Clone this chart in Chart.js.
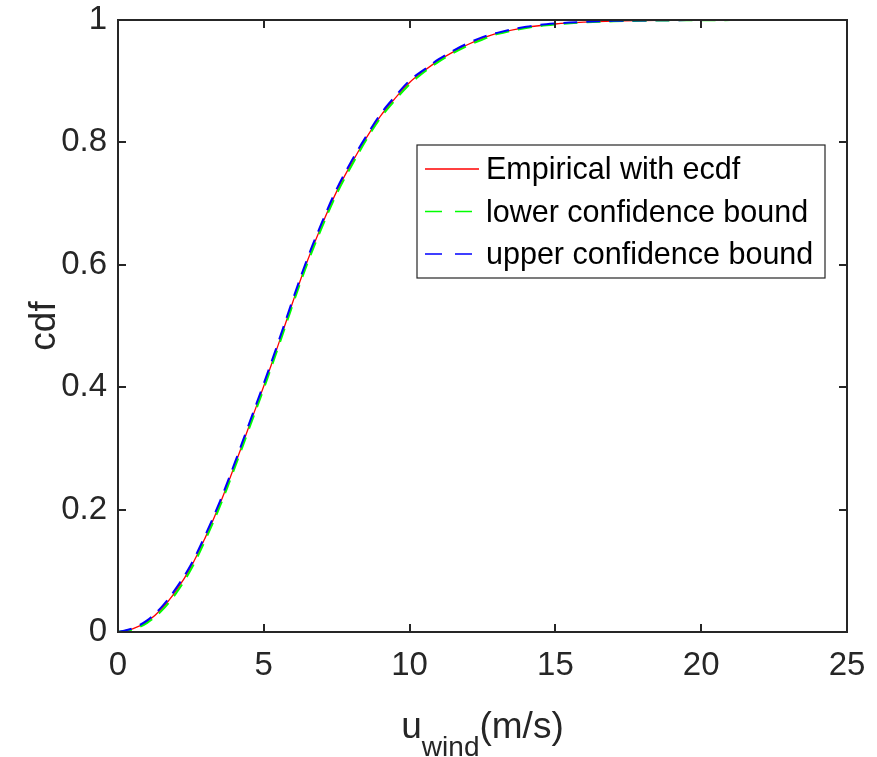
<!DOCTYPE html>
<html>
<head>
<meta charset="utf-8">
<script src="https://cdn.jsdelivr.net/npm/chart.js@4.4.0/dist/chart.umd.min.js"></script>
<style>
  html, body { margin: 0; padding: 0; background: #fff; }
  #box { width: 877px; height: 757px; position: relative; }
</style>
</head>
<body>
<div id="box"><canvas id="myChart"></canvas></div>
<script>
// datos
const xWind = [0, 0.5, 1, 1.5, 2, 2.5, 3, 3.5, 4, 4.5, 5, 5.5, 6, 6.5, 7, 7.5, 8, 8.5, 9, 9.5,
  10, 10.5, 11, 11.5, 12, 12.5, 13, 14, 15, 16, 17, 18, 19, 20, 21, 22, 22.7];
const cdfEmp = [0, 0.005, 0.017, 0.038, 0.068, 0.106, 0.155, 0.21, 0.272, 0.337,
  0.402, 0.47, 0.54, 0.607, 0.666, 0.72, 0.765, 0.806, 0.843, 0.872,
  0.898, 0.917, 0.934, 0.948, 0.96, 0.97, 0.978, 0.988, 0.9935, 0.9965,
  0.9982, 0.999, 0.9995, 0.9998, 0.9999, 1, 1];
const cdfLower = [0, 0.004, 0.015, 0.035, 0.064, 0.102, 0.151, 0.206, 0.268, 0.333,
  0.398, 0.466, 0.536, 0.603, 0.662, 0.716, 0.761, 0.803, 0.84, 0.869,
  0.895, 0.915, 0.932, 0.946, 0.958, 0.968, 0.977, 0.987, 0.9927, 0.996,
  0.9978, 0.9987, 0.9993, 0.9997, 0.9998, 0.9999, 1];
const cdfUpper = [0, 0.006, 0.019, 0.041, 0.072, 0.11, 0.159, 0.214, 0.276, 0.341,
  0.406, 0.474, 0.544, 0.611, 0.67, 0.724, 0.769, 0.809, 0.846, 0.875,
  0.901, 0.919, 0.936, 0.95, 0.962, 0.972, 0.979, 0.989, 0.9943, 0.997,
  0.9986, 0.9993, 0.9997, 0.9999, 1, 1, 1];

const xTicks = [0, 5, 10, 15, 20, 25];
const yTicks = [0, 0.2, 0.4, 0.6, 0.8, 1];
const xTickLabels = ["0", "5", "10", "15", "20", "25"];
const yTickLabels = ["0", "0.2", "0.4", "0.6", "0.8", "1"];
const seriesNames = ["Empirical with ecdf", "lower confidence bound", "upper confidence bound"];

const FONT = "'Liberation Sans', Arial, Helvetica, sans-serif";
const AXC = "#262626";

function puntos(ys) {
  return xWind.map((x, i) => ({ x: x, y: ys[i] }));
}

// ticks hacia adentro, caja, titulos y leyenda
const marcoPlugin = {
  id: "marco",
  afterDraw(chart) {
    const ctx = chart.ctx;
    const a = chart.chartArea;
    const sx = chart.scales.x, sy = chart.scales.y;
    ctx.save();
    ctx.strokeStyle = AXC;
    ctx.lineWidth = 2;
    ctx.setLineDash([]);
    ctx.strokeRect(a.left, a.top, a.right - a.left, a.bottom - a.top);
    const tl = 8;
    ctx.beginPath();
    xTicks.forEach(v => {
      const px = Math.round(sx.getPixelForValue(v));
      ctx.moveTo(px, a.bottom); ctx.lineTo(px, a.bottom - tl);
      ctx.moveTo(px, a.top); ctx.lineTo(px, a.top + tl);
    });
    yTicks.forEach(v => {
      const py = Math.round(sy.getPixelForValue(v));
      ctx.moveTo(a.left, py); ctx.lineTo(a.left + tl, py);
      ctx.moveTo(a.right, py); ctx.lineTo(a.right - tl, py);
    });
    ctx.stroke();

    // titulo eje x con subindice
    ctx.fillStyle = AXC;
    ctx.textBaseline = "alphabetic";
    ctx.textAlign = "left";
    const big = "37px " + FONT, small = "28px " + FONT;
    ctx.font = big;
    const wU = ctx.measureText("u").width;
    const wP = ctx.measureText("(m/s)").width;
    ctx.font = small;
    const wW = ctx.measureText("wind").width;
    let x0 = (a.left + a.right) / 2 - (wU + wW + wP) / 2;
    ctx.font = big;
    ctx.fillText("u", x0, 738);
    ctx.font = small;
    ctx.fillText("wind", x0 + wU, 756);
    ctx.font = big;
    ctx.fillText("(m/s)", x0 + wU + wW, 738);

    // titulo eje y
    ctx.save();
    ctx.translate(55, (a.top + a.bottom) / 2);
    ctx.rotate(-Math.PI / 2);
    ctx.textAlign = "center";
    ctx.font = big;
    ctx.fillText("cdf", 0, 0);
    ctx.restore();

    // leyenda
    const lx = 417, ly = 145, lw = 408, lh = 133;
    ctx.fillStyle = "#fff";
    ctx.fillRect(lx, ly, lw, lh);
    ctx.strokeStyle = AXC;
    ctx.lineWidth = 1.2;
    ctx.strokeRect(lx, ly, lw, lh);
    const rows = [169, 211.5, 254];
    chart.data.datasets.forEach((ds, i) => {
      ctx.beginPath();
      ctx.strokeStyle = ds.borderColor;
      ctx.lineWidth = 1.3;
      ctx.setLineDash(ds.borderDash ? [17, 13] : []);
      ctx.moveTo(425, rows[i]);
      ctx.lineTo(479, rows[i]);
      ctx.stroke();
      ctx.setLineDash([]);
      ctx.fillStyle = "#000";
      ctx.font = "30.5px " + FONT;
      ctx.textBaseline = "middle";
      ctx.textAlign = "left";
      ctx.fillText(ds.label, 486, rows[i] + 2);
    });
    ctx.restore();
  }
};

const data = {
  datasets: [
    {
      label: seriesNames[0],
      data: puntos(cdfEmp),
      borderColor: "rgb(255, 0, 0)",
      borderWidth: 1.3,
      order: 3
    },
    {
      label: seriesNames[1],
      data: puntos(cdfLower),
      borderColor: "rgb(0, 255, 0)",
      borderWidth: 2,
      borderDash: [14, 9],
      order: 2
    },
    {
      label: seriesNames[2],
      data: puntos(cdfUpper),
      borderColor: "rgb(0, 0, 255)",
      borderWidth: 2,
      borderDash: [14, 9],
      order: 1
    }
  ]
};

const config = {
  type: "line",
  data,
  options: {
    responsive: true,
    maintainAspectRatio: false,
    animation: false,
    layout: { padding: { top: 20, right: 30, left: 0, bottom: 0 } },
    elements: { point: { radius: 0 }, line: { tension: 0.35, fill: false } },
    plugins: { legend: { display: false }, tooltip: { enabled: false } },
    scales: {
      x: {
        type: "linear",
        min: 0, max: 25,
        afterBuildTicks: s => { s.ticks = xTicks.map(v => ({ value: v })); },
        afterFit: s => { s.height = 125; s.paddingLeft = 0; s.paddingRight = 0; },
        grid: { display: false },
        border: { display: false },
        ticks: {
          color: AXC,
          font: { family: FONT, size: 33 },
          padding: 6,
          maxRotation: 0,
          callback: (v, i) => xTickLabels[i]
        }
      },
      y: {
        type: "linear",
        min: 0, max: 1,
        afterBuildTicks: s => { s.ticks = yTicks.map(v => ({ value: v })); },
        afterFit: s => { s.width = 118; s.paddingTop = 0; s.paddingBottom = 0; },
        grid: { display: false },
        border: { display: false },
        ticks: {
          color: AXC,
          font: { family: FONT, size: 33 },
          padding: 3,
          callback: (v, i) => yTickLabels[i]
        }
      }
    }
  },
  plugins: [marcoPlugin]
};

const myChart = document.getElementById("myChart");
window.chart = new Chart(myChart, config);
</script>
</body>
</html>
